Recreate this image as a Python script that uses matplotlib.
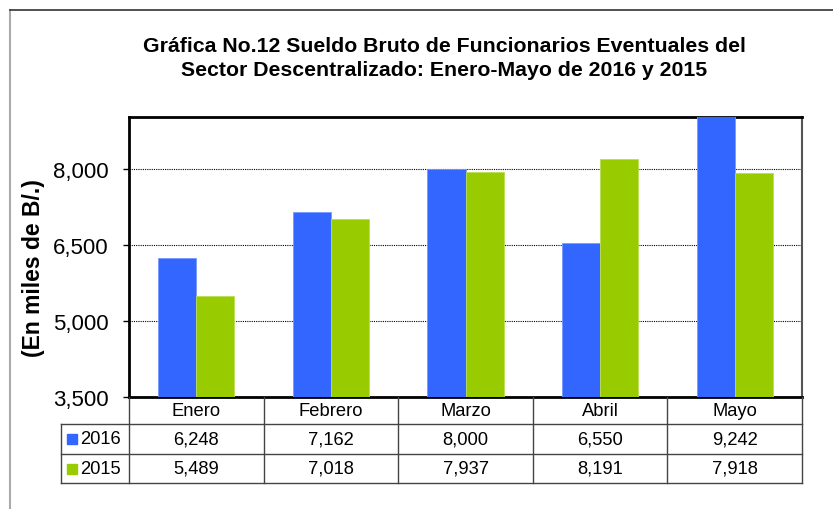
import numpy as np
import matplotlib.pyplot as plt
from matplotlib.transforms import blended_transform_factory
from matplotlib.patches import Rectangle

plt.rcParams['font.family'] = ['Liberation Sans', 'DejaVu Sans']

meses = ['Enero', 'Febrero', 'Marzo', 'Abril', 'Mayo']
anios = ['2016', '2015']
sueldo_2016 = [6248, 7162, 8000, 6550, 9242]
sueldo_2015 = [5489, 7018, 7937, 8191, 7918]
colores = ['#3366FF', '#99CC00']
yticks = [3500, 5000, 6500, 8000]

W, H = 833, 510


def fx(x):
    return x / W


def fy(y):
    return 1 - y / H


fig = plt.figure(figsize=(W / 100, H / 100), dpi=100)

# marco exterior
fig.add_artist(plt.Line2D([fx(10), fx(10)], [fy(11), 0], color='#aaaaaa', lw=1.5))
fig.add_artist(plt.Line2D([fx(10), 1], [fy(11), fy(11)], color='#333333', lw=1.2))

ax = fig.add_axes([fx(129), fy(398), fx(802 - 129), (398 - 118) / H])

x = np.arange(len(meses))
w = 0.283
ax.bar(x - w / 2, sueldo_2016, w, color=colores[0], edgecolor='#7799ff', lw=0.6, zorder=3)
ax.bar(x + w / 2, sueldo_2015, w, color=colores[1], edgecolor='#bbdd55', lw=0.6, zorder=3)

ax.set_xlim(-0.5, len(meses) - 0.5)
ax.set_ylim(3500, 9030)
ax.set_yticks(yticks)
ax.set_yticklabels([f'{v:,}' for v in yticks], fontsize=16)
ax.set_xticks([])
ax.tick_params(axis='y', direction='out', length=4.5, width=1, pad=10)
ax.yaxis.grid(True, color='black', linestyle=(0, (1, 1)), lw=0.8, zorder=1)
for s in ['left', 'top', 'bottom']:
    ax.spines[s].set_linewidth(2)
ax.spines['right'].set_linewidth(1.5)
ax.spines['right'].set_color('#555555')

fig.text(fx(34), fy(268), '(En miles de B/.)', rotation=90, ha='center', va='center',
         fontsize=16.5, fontweight='bold')

fig.text(fx(444), fy(47), 'Gráfica No.12 Sueldo Bruto de Funcionarios Eventuales del',
         ha='center', va='center', fontsize=15.3, fontweight='bold')
fig.text(fx(444), fy(71), 'Sector Descentralizado: Enero-Mayo de 2016 y 2015',
         ha='center', va='center', fontsize=15.3, fontweight='bold')

# tabla de datos
tr = blended_transform_factory(ax.transData, fig.transFigure)
lc = '#444444'
y_rows = [398, 425, 455, 484]
for b in np.arange(len(meses) + 1) - 0.5:
    fig.add_artist(plt.Line2D([b, b], [fy(398), fy(484)], color=lc, lw=1, transform=tr))
for yy in y_rows[1:]:
    fig.add_artist(plt.Line2D([fx(61), fx(802)], [fy(yy), fy(yy)], color=lc, lw=1))
fig.add_artist(plt.Line2D([fx(61), fx(61)], [fy(425), fy(484)], color=lc, lw=1))

fs = 13.2
for i, m in enumerate(meses):
    fig.text(i, fy(411.5), m, transform=tr, ha='center', va='center', fontsize=fs)
    fig.text(i, fy(440), f'{sueldo_2016[i]:,}', transform=tr, ha='center', va='center', fontsize=fs)
    fig.text(i, fy(469.5), f'{sueldo_2015[i]:,}', transform=tr, ha='center', va='center', fontsize=fs)

for j, (a, c, yc) in enumerate(zip(anios, colores, [440, 469.5])):
    fig.add_artist(Rectangle((fx(67), fy(yc + 5)), fx(10), 10 / H, color=c, transform=fig.transFigure))
    fig.text(fx(80), fy(yc), a, ha='left', va='center', fontsize=fs)

fig.savefig('out.png', dpi=100)
